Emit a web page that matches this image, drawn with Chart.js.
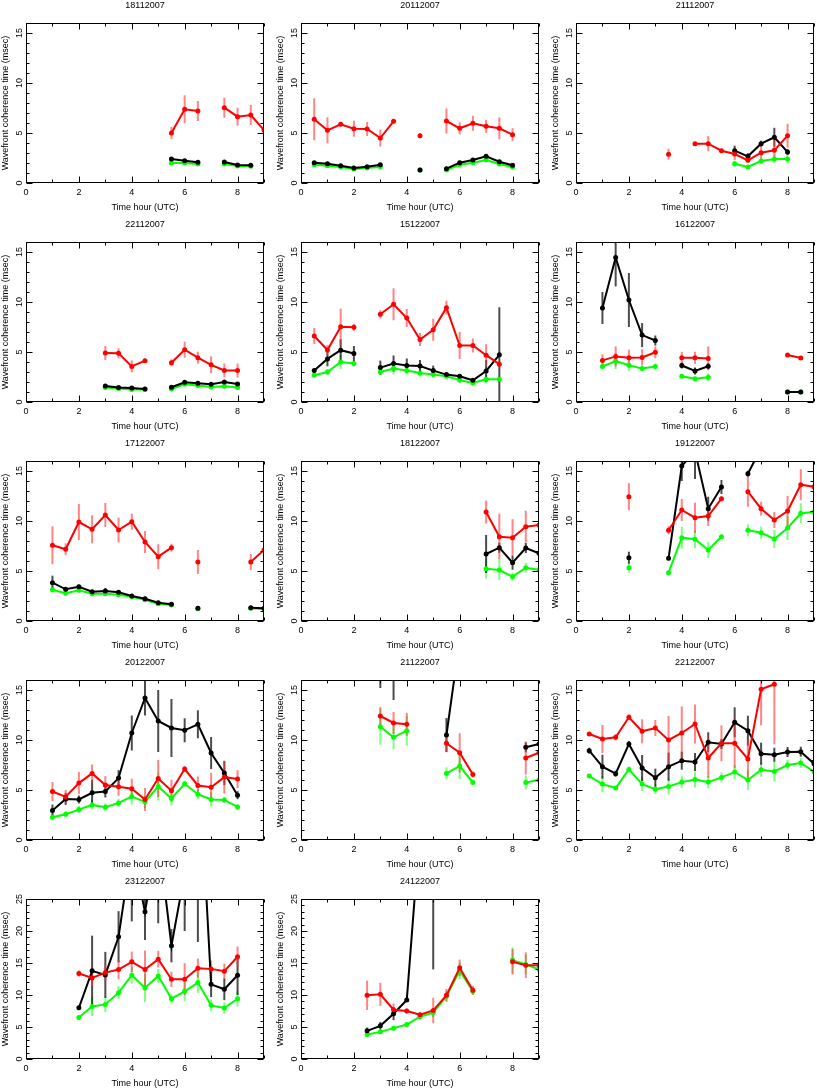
<!DOCTYPE html>
<html><head><meta charset="utf-8">
<script src="https://cdn.jsdelivr.net/npm/chart.js@4.4.0/dist/chart.umd.min.js"></script>
<style>
html,body{margin:0;padding:0;background:#fff;width:817px;height:1089px;overflow:hidden;position:relative;}
canvas{position:absolute;}
</style></head><body>
<script>
// ---------- tick labels ----------
const xTickValues = [0, 2, 4, 6, 8];
const yTicks16 = [0, 5, 10, 15];
const yTicks25 = [0, 5, 10, 15, 20, 25];

// ---------- 18112007 ----------
const t_18112007 = [5.5, 6, 6.5, 7, 7.5, 8, 8.5, 9];
const red_18112007 = [5.0, 7.37, 7.2, null, 7.53, 6.63, 6.8, 5.3];
const redErr_18112007 = [0.6, 1.4, 1.0, null, 1.0, 0.9, 1.0, 1.1];
const black_18112007 = [2.4, 2.23, 2.07, null, 2.1, 1.8, 1.77, null];
const blackErr_18112007 = [0.15, 0.15, 0.1, null, 0.15, 0.1, 0.1, null];
const green_18112007 = [2.0, 2.0, 1.9, null, 1.9, 1.7, 1.67, null];
const greenErr_18112007 = [0.1, 0.1, 0.1, null, 0.1, 0.1, 0.1, null];

// ---------- 20112007 ----------
const t_20112007 = [0.5, 1, 1.5, 2, 2.5, 3, 3.5, 4, 4.5, 5, 5.5, 6, 6.5, 7, 7.5, 8];
const red_20112007 = [6.37, 5.27, 5.87, 5.43, 5.4, 4.5, 6.17, null, 4.73, null, 6.2, 5.47, 5.97, 5.67, 5.47, 4.83];
const redErr_20112007 = [2.1, 1.3, 0.2, 0.8, 0.7, 0.85, 0.2, null, 0.25, null, 1.25, 0.6, 0.75, 0.65, 1.1, 0.65];
const black_20112007 = [2.03, 1.93, 1.73, 1.5, 1.63, 1.83, null, null, 1.3, null, 1.43, 2.03, 2.3, 2.67, 2.13, 1.77];
const blackErr_20112007 = [0.15, 0.15, 0.15, 0.15, 0.15, 0.15, null, null, 0.1, null, 0.2, 0.2, 0.15, 0.15, 0.15, 0.15];
const green_20112007 = [1.83, 1.73, 1.6, 1.4, 1.5, 1.63, null, null, 1.3, null, 1.3, 1.83, 2.03, 2.3, 1.9, 1.6];
const greenErr_20112007 = [0.1, 0.1, 0.1, 0.1, 0.1, 0.1, null, null, 0.1, null, 0.1, 0.1, 0.1, 0.1, 0.1, 0.1];

// ---------- 21112007 ----------
const t_21112007 = [3.5, 4, 4.5, 5, 5.5, 6, 6.5, 7, 7.5, 8];
const red_21112007 = [2.87, null, 3.93, 3.93, 3.23, 2.9, 2.27, 3.03, 3.27, 4.73];
const redErr_21112007 = [0.55, null, 0.15, 0.75, 0.15, 0.6, 0.2, 0.9, 1.0, 1.2];
const black_21112007 = [null, null, null, null, null, 3.23, 2.67, 3.93, 4.57, 3.1];
const blackErr_21112007 = [null, null, null, null, null, 0.5, 0.3, 0.3, 0.95, 0.3];
const green_21112007 = [null, null, null, null, null, 1.93, 1.6, 2.2, 2.4, 2.4];
const greenErr_21112007 = [null, null, null, null, null, 0.3, 0.15, 0.3, 0.4, 0.4];

// ---------- 22112007 ----------
const t_22112007 = [3, 3.5, 4, 4.5, 5, 5.5, 6, 6.5, 7, 7.5, 8];
const red_22112007 = [4.9, 4.87, 3.56, 4.13, null, 3.93, 5.23, 4.43, 3.72, 3.15, 3.15];
const redErr_22112007 = [0.7, 0.5, 0.6, 0.2, null, 0.35, 0.8, 0.6, 0.85, 0.7, 0.7];
const black_22112007 = [1.6, 1.45, 1.4, 1.3, null, 1.47, 1.97, 1.88, 1.78, 2.0, 1.8];
const blackErr_22112007 = [0.1, 0.1, 0.1, 0.1, null, 0.1, 0.15, 0.1, 0.1, 0.1, 0.1];
const green_22112007 = [1.45, 1.35, 1.25, 1.25, null, 1.3, 1.78, 1.65, 1.5, 1.57, 1.45];
const greenErr_22112007 = [0.1, 0.1, 0.1, 0.1, null, 0.1, 0.15, 0.1, 0.1, 0.1, 0.1];

// ---------- 15122007 ----------
const t_15122007 = [0.5, 1, 1.5, 2, 2.5, 3, 3.5, 4, 4.5, 5, 5.5, 6, 6.5, 7, 7.5];
const red_15122007 = [6.6, 5.2, 7.53, 7.47, null, 8.77, 9.77, 8.4, 6.25, 7.22, 9.43, 5.65, 5.65, 4.68, 3.78];
const redErr_15122007 = [0.8, 0.5, 1.8, 0.35, null, 0.4, 1.6, 0.9, 0.65, 1.1, 0.7, 1.35, 0.7, 1.1, 0.2];
const black_15122007 = [3.14, 4.31, 5.18, 4.85, null, 3.44, 3.85, 3.65, 3.6, 3.14, 2.74, 2.58, 2.17, 3.1, 4.72];
const blackErr_15122007 = [0.2, 0.75, 1.1, 0.75, null, 0.7, 0.8, 0.7, 0.6, 0.5, 0.2, 0.2, 0.2, 1.1, 4.75];
const green_15122007 = [2.68, 3.0, 4.0, 3.85, null, 3.0, 3.35, 3.14, 2.9, 2.74, 2.58, 2.2, 1.9, 2.27, 2.27];
const greenErr_15122007 = [0.2, 0.3, 0.7, 0.3, null, 0.3, 0.6, 0.4, 0.35, 0.3, 0.3, 0.3, 0.2, 0.4, 0.3];

// ---------- 16122007 ----------
const t_16122007 = [1, 1.5, 2, 2.5, 3, 3.5, 4, 4.5, 5, 5.5, 6, 6.5, 7, 7.5, 8, 8.5];
const red_16122007 = [4.16, 4.56, 4.42, 4.46, 4.97, null, 4.42, 4.42, 4.36, null, null, null, null, null, 4.7, 4.4];
const redErr_16122007 = [0.6, 1.0, 0.8, 0.8, 0.6, null, 0.6, 0.6, 1.2, null, null, null, null, null, 0.2, 0.15];
const black_16122007 = [9.4, 14.46, 10.2, 6.69, 6.15, null, 3.65, 3.1, 3.58, null, null, null, null, null, 1.0, 1.0];
const blackErr_16122007 = [1.6, 2.9, 2.7, 1.2, 0.5, null, 0.3, 0.35, 0.3, null, null, null, null, null, 0.1, 0.1];
const green_16122007 = [3.55, 4.1, 3.68, 3.34, 3.55, null, 2.57, 2.33, 2.47, null, null, null, null, null, 1.0, 1.0];
const greenErr_16122007 = [0.3, 0.8, 0.6, 0.3, 0.3, null, 0.2, 0.2, 0.4, null, null, null, null, null, 0.05, 0.05];

// ---------- 17122007 ----------
const t_17122007 = [1, 1.5, 2, 2.5, 3, 3.5, 4, 4.5, 5, 5.5, 6, 6.5, 7, 7.5, 8, 8.5, 9];
const red_17122007 = [7.57, 7.17, 9.9, 9.17, 10.6, 9.1, 9.93, 7.9, 6.43, 7.33, null, 5.9, null, null, null, 5.9, 7.1];
const redErr_17122007 = [1.9, 0.6, 1.8, 1.4, 1.2, 1.25, 0.8, 1.1, 1.25, 0.4, null, 1.2, null, null, null, 0.8, 0.85];
const black_17122007 = [3.83, 3.17, 3.43, 2.93, 3.0, 2.87, 2.5, 2.23, 1.83, 1.67, null, 1.27, null, null, null, 1.33, 1.27];
const blackErr_17122007 = [0.7, 0.2, 0.2, 0.2, 0.3, 0.2, 0.2, 0.2, 0.15, 0.15, null, 0.1, null, null, null, 0.1, 0.1];
const green_17122007 = [3.13, 2.77, 3.07, 2.73, 2.73, 2.63, 2.43, 2.13, 1.73, 1.6, null, 1.23, null, null, null, 1.27, 1.2];
const greenErr_17122007 = [0.3, 0.2, 0.2, 0.2, 0.2, 0.2, 0.2, 0.2, 0.15, 0.15, null, 0.1, null, null, null, 0.1, 0.1];

// ---------- 18122007 ----------
const t_18122007 = [7, 7.5, 8, 8.5, 9];
const red_18122007 = [10.9, 8.43, 8.33, 9.43, 9.6];
const redErr_18122007 = [1.15, 2.3, 1.85, 1.6, 1.1];
const black_18122007 = [6.7, 7.33, 5.83, 7.3, 6.77];
const blackErr_18122007 = [1.9, 0.5, 0.7, 0.5, 0.4];
const green_18122007 = [5.23, 5.1, 4.43, 5.33, 5.13];
const greenErr_18122007 = [1.0, 1.0, 0.4, 0.5, 0.4];

// ---------- 19122007 ----------
const t_19122007 = [2, 2.5, 3, 3.5, 4, 4.5, 5, 5.5, 6, 6.5, 7, 7.5, 8, 8.5, 9];
const red_19122007 = [12.43, null, null, 9.07, 11.1, 10.33, 10.5, 12.23, null, 12.93, 11.23, 10.1, 11.0, 13.63, 13.43];
const redErr_19122007 = [1.35, null, null, 0.4, 1.1, 1.5, 1.0, 0.2, null, 1.5, 0.7, 0.8, 1.5, 1.55, 1.7];
const black_19122007 = [6.33, null, null, 6.27, 15.5, 17.0, 11.23, 13.4, null, 14.73, 17.3, null, null, null, null];
const blackErr_19122007 = [0.6, null, null, 0.2, 1.5, 2.8, 1.2, 0.7, null, 0.3, 0.5, null, null, null, null];
const green_19122007 = [5.33, null, null, 4.83, 8.33, 8.17, 7.1, 8.43, null, 9.07, 8.83, 8.2, 9.3, 10.77, 10.9];
const greenErr_19122007 = [0.5, null, null, 0.2, 1.1, 0.9, 0.8, 0.2, null, 0.6, 0.6, 0.9, 1.2, 1.0, 0.6];

// ---------- 20122007 ----------
const t_20122007 = [1, 1.5, 2, 2.5, 3, 3.5, 4, 4.5, 5, 5.5, 6, 6.5, 7, 7.5, 8];
const red_20122007 = [4.85, 4.31, 5.69, 6.66, 5.49, 5.32, 5.12, 4.05, 6.15, 4.92, 7.09, 5.45, 5.28, 6.29, 6.09];
const redErr_20122007 = [0.95, 0.7, 1.1, 0.9, 0.9, 0.9, 1.0, 1.15, 1.85, 1.1, 0.3, 0.9, 1.45, 1.65, 0.9];
const black_20122007 = [2.94, 4.11, 4.05, 4.72, 4.85, 6.19, 10.7, 14.2, 11.9, 11.2, 10.97, 11.57, 8.7, 6.69, 4.48];
const blackErr_20122007 = [0.6, 0.6, 0.4, 1.3, 0.6, 0.8, 1.75, 1.75, 3.1, 2.9, 1.2, 1.4, 1.6, 1.2, 0.4];
const green_20122007 = [2.27, 2.58, 3.04, 3.51, 3.28, 3.71, 4.35, 3.81, 5.35, 4.15, 5.62, 4.58, 4.05, 4.01, 3.31];
const greenErr_20122007 = [0.3, 0.3, 0.4, 0.5, 0.4, 0.4, 0.8, 0.6, 1.4, 0.7, 0.3, 0.5, 0.7, 0.3, 0.3];

// ---------- 21122007 ----------
const t_21122007 = [3, 3.5, 4, 4.5, 5, 5.5, 6, 6.5, 7, 7.5, 8, 8.5, 9];
const red_21122007 = [12.4, 11.7, 11.57, null, null, 9.67, 8.73, 6.56, null, null, null, 8.2, 8.73];
const redErr_21122007 = [0.9, 1.1, 1.15, null, null, 0.9, 1.95, 0.3, null, null, null, 1.65, 1.3];
const black_21122007 = [17.5, 18.5, 19.0, null, null, 10.5, 20.0, null, null, null, null, 9.27, 9.6];
const blackErr_21122007 = [2.3, 4.5, 1.0, null, null, 1.7, 2.0, null, null, null, null, 0.5, 0.5];
const green_21122007 = [11.33, 10.27, 10.93, null, null, 6.66, 7.39, 5.75, null, null, null, 5.75, 5.99];
const greenErr_21122007 = [1.8, 1.2, 1.5, null, null, 0.6, 1.3, 0.2, null, null, null, 0.7, 0.5];

// ---------- 22122007 ----------
const t_22122007 = [0.5, 1, 1.5, 2, 2.5, 3, 3.5, 4, 4.5, 5, 5.5, 6, 6.5, 7, 7.5, 8, 8.5, 9];
const red_22122007 = [10.6, 10.1, 10.27, 12.27, 10.87, 11.2, 10.0, 10.7, 11.6, 8.2, 9.67, 9.67, 8.1, 15.07, 15.57, null, null, null];
const redErr_22122007 = [0.2, 1.4, 0.3, 0.3, 1.2, 0.8, 2.4, 2.65, 1.95, 2.0, 1.8, 2.5, 1.9, 3.6, 6.0, null, null, null];
const black_22122007 = [8.93, 7.33, 6.63, 9.6, 7.2, 6.23, 7.33, 7.93, 7.8, 9.77, 9.6, 11.77, 10.93, 8.63, 8.53, 8.8, 8.83, 7.63];
const blackErr_22122007 = [0.3, 1.2, 0.3, 0.3, 1.3, 0.9, 1.4, 0.9, 0.9, 1.0, 0.5, 1.5, 1.5, 1.1, 0.7, 0.5, 0.5, 0.3];
const green_22122007 = [6.39, 5.59, 5.2, 7.06, 5.59, 5.08, 5.35, 5.79, 6.06, 5.79, 6.26, 6.8, 5.99, 7.03, 6.86, 7.5, 7.7, 6.83];
const greenErr_22122007 = [0.2, 0.8, 0.2, 0.3, 0.7, 0.5, 0.8, 0.6, 0.8, 0.6, 0.5, 0.7, 1.0, 0.7, 1.0, 0.5, 0.5, 0.3];

// ---------- 23122007 ----------
const t_23122007 = [2, 2.5, 3, 3.5, 4, 4.5, 5, 5.5, 6, 6.5, 7, 7.5, 8];
const red_23122007 = [13.35, 12.67, 13.5, 13.97, 15.18, 13.97, 15.6, 12.46, 12.46, 14.19, 14.08, 13.72, 15.97];
const redErr_23122007 = [0.5, 1.2, 1.3, 1.5, 1.6, 3.0, 1.3, 1.2, 2.5, 1.5, 1.3, 1.2, 1.6];
const black_23122007 = [8.0, 13.77, 13.14, 19.1, 33.0, 23.0, 35.0, 17.7, 29.0, 50.0, 11.67, 10.89, 13.09];
const blackErr_23122007 = [0.3, 5.5, 3.6, 4.0, 11.5, 4.4, 13.8, 2.6, 9.0, 31.7, 2.0, 1.7, 3.1];
const green_23122007 = [6.49, 8.22, 8.53, 10.37, 13.09, 11.1, 12.98, 9.42, 10.58, 11.94, 8.38, 7.96, 9.42];
const greenErr_23122007 = [0.3, 1.5, 1.2, 1.0, 1.3, 2.2, 1.1, 0.7, 1.5, 1.6, 0.9, 0.9, 1.2];

// ---------- 24122007 ----------
const t_24122007 = [2.5, 3, 3.5, 4, 4.5, 5, 5.5, 6, 6.5, 7, 7.5, 8, 8.5, 9];
const red_24122007 = [9.95, 10.1, 7.7, 7.49, 6.91, 7.59, 9.95, 14.24, 10.73, null, null, 15.18, 14.66, 14.66];
const redErr_24122007 = [2.3, 1.8, 1.0, 0.4, 0.4, 2.0, 1.0, 1.3, 0.7, null, null, 2.0, 2.0, 1.5];
const black_24122007 = [4.4, 5.18, 7.07, 9.21, 36.0, 30.0, null, null, null, null, null, null, null, null];
const blackErr_24122007 = [0.5, 0.6, 1.0, 0.3, 5.0, 16.0, null, null, null, null, null, null, null, null];
const green_24122007 = [3.82, 4.24, 4.82, 5.39, 6.6, 7.23, 9.8, 13.8, 10.6, null, null, 15.45, 14.76, 14.03];
const greenErr_24122007 = [0.3, 0.3, 0.3, 0.3, 0.4, 0.7, 0.8, 1.3, 0.6, null, null, 2.0, 1.5, 1.5];

// ---------- panel table built from the arrays ----------
const panels = [
  {name: '18112007', t: t_18112007, red: red_18112007, redErr: redErr_18112007, black: black_18112007, blackErr: blackErr_18112007, green: green_18112007, greenErr: greenErr_18112007, yMax: 16, yTicks: yTicks16},
  {name: '20112007', t: t_20112007, red: red_20112007, redErr: redErr_20112007, black: black_20112007, blackErr: blackErr_20112007, green: green_20112007, greenErr: greenErr_20112007, yMax: 16, yTicks: yTicks16},
  {name: '21112007', t: t_21112007, red: red_21112007, redErr: redErr_21112007, black: black_21112007, blackErr: blackErr_21112007, green: green_21112007, greenErr: greenErr_21112007, yMax: 16, yTicks: yTicks16},
  {name: '22112007', t: t_22112007, red: red_22112007, redErr: redErr_22112007, black: black_22112007, blackErr: blackErr_22112007, green: green_22112007, greenErr: greenErr_22112007, yMax: 16, yTicks: yTicks16},
  {name: '15122007', t: t_15122007, red: red_15122007, redErr: redErr_15122007, black: black_15122007, blackErr: blackErr_15122007, green: green_15122007, greenErr: greenErr_15122007, yMax: 16, yTicks: yTicks16},
  {name: '16122007', t: t_16122007, red: red_16122007, redErr: redErr_16122007, black: black_16122007, blackErr: blackErr_16122007, green: green_16122007, greenErr: greenErr_16122007, yMax: 16, yTicks: yTicks16},
  {name: '17122007', t: t_17122007, red: red_17122007, redErr: redErr_17122007, black: black_17122007, blackErr: blackErr_17122007, green: green_17122007, greenErr: greenErr_17122007, yMax: 16, yTicks: yTicks16},
  {name: '18122007', t: t_18122007, red: red_18122007, redErr: redErr_18122007, black: black_18122007, blackErr: blackErr_18122007, green: green_18122007, greenErr: greenErr_18122007, yMax: 16, yTicks: yTicks16},
  {name: '19122007', t: t_19122007, red: red_19122007, redErr: redErr_19122007, black: black_19122007, blackErr: blackErr_19122007, green: green_19122007, greenErr: greenErr_19122007, yMax: 16, yTicks: yTicks16},
  {name: '20122007', t: t_20122007, red: red_20122007, redErr: redErr_20122007, black: black_20122007, blackErr: blackErr_20122007, green: green_20122007, greenErr: greenErr_20122007, yMax: 16, yTicks: yTicks16},
  {name: '21122007', t: t_21122007, red: red_21122007, redErr: redErr_21122007, black: black_21122007, blackErr: blackErr_21122007, green: green_21122007, greenErr: greenErr_21122007, yMax: 16, yTicks: yTicks16},
  {name: '22122007', t: t_22122007, red: red_22122007, redErr: redErr_22122007, black: black_22122007, blackErr: blackErr_22122007, green: green_22122007, greenErr: greenErr_22122007, yMax: 16, yTicks: yTicks16},
  {name: '23122007', t: t_23122007, red: red_23122007, redErr: redErr_23122007, black: black_23122007, blackErr: blackErr_23122007, green: green_23122007, greenErr: greenErr_23122007, yMax: 25, yTicks: yTicks25},
  {name: '24122007', t: t_24122007, red: red_24122007, redErr: redErr_24122007, black: black_24122007, blackErr: blackErr_24122007, green: green_24122007, greenErr: greenErr_24122007, yMax: 25, yTicks: yTicks25}
];

const FONT = "'Liberation Sans', Arial, Helvetica, sans-serif";

const errPlugin = {
  id: 'errbars',
  beforeDatasetsDraw(chart) {
    const {ctx, chartArea: a, scales: {x, y}} = chart;
    ctx.save();
    ctx.beginPath();
    ctx.rect(a.left, a.top, a.right - a.left, a.bottom - a.top);
    ctx.clip();
    ctx.lineWidth = 2;
    ctx.lineCap = 'butt';
    for (let d = chart.data.datasets.length - 1; d >= 0; d--) {
      const ds = chart.data.datasets[d];
      ctx.strokeStyle = ds.errColor;
      ds.data.forEach((pt, i) => {
        const e = ds.errs[i];
        if (pt.y === null || e === null || e === undefined) return;
        const px = x.getPixelForValue(pt.x);
        ctx.beginPath();
        ctx.moveTo(px, y.getPixelForValue(pt.y - e));
        ctx.lineTo(px, y.getPixelForValue(pt.y + e));
        ctx.stroke();
      });
    }
    ctx.restore();
  }
};

const framePlugin = {
  id: 'frame',
  afterDatasetsDraw(chart) {
    const {ctx, chartArea: a, scales: {x, y}} = chart;
    const L = Math.round(a.left) + 0.5, R = Math.round(a.right) - 0.5;
    const T = Math.round(a.top) + 0.5, B = Math.round(a.bottom) - 0.5;
    ctx.save();
    ctx.strokeStyle = '#000';
    ctx.lineWidth = 1;
    ctx.strokeRect(L, T, R - L, B - T);
    const xMajor = chart.options.scales.x.majorTicks;
    const yMajor = chart.options.scales.y.majorTicks;
    ctx.beginPath();
    for (let v = Math.ceil(x.min); v <= x.max; v++) {
      const px = Math.round(x.getPixelForValue(v)) + 0.5;
      const len = xMajor.includes(v) ? 6 : 3;
      ctx.moveTo(px, B); ctx.lineTo(px, B - len);
      ctx.moveTo(px, T); ctx.lineTo(px, T + len);
    }
    for (let v = Math.ceil(y.min); v <= y.max; v++) {
      const py = Math.round(y.getPixelForValue(v)) + 0.5;
      const len = yMajor.includes(v) ? 6 : 3;
      ctx.moveTo(L, py); ctx.lineTo(L + len, py);
      ctx.moveTo(R, py); ctx.lineTo(R - len, py);
    }
    ctx.stroke();
    ctx.restore();
  }
};

function makeDataset(times, vals, errs, color, errColor) {
  return {
    data: times.map((t, i) => ({x: t, y: vals[i]})),
    errs: errs,
    errColor: errColor,
    borderColor: color,
    backgroundColor: color,
    borderWidth: 2,
    pointRadius: 2.5,
    pointBorderWidth: 0,
    pointBackgroundColor: color,
    pointHoverRadius: 2.5,
    tension: 0,
    spanGaps: false,
    clip: 0
  };
}

panels.forEach((p, idx) => {
  const col = idx % 3, row = Math.floor(idx / 3);
  const cv = document.createElement('canvas');
  cv.width = 270; cv.height = 219;
  cv.style.width = '270px'; cv.style.height = '219px';
  cv.style.left = (col * 275) + 'px';
  cv.style.top = (row * 219) + 'px';
  document.body.appendChild(cv);
  const fnt = {family: FONT, size: 9, weight: 'normal'};
  new Chart(cv, {
    type: 'line',
    data: {
      datasets: [
        makeDataset(p.t, p.red, p.redErr, '#ff0000', 'rgba(255,50,50,0.6)'),
        makeDataset(p.t, p.black, p.blackErr, '#000000', 'rgba(0,0,0,0.7)'),
        makeDataset(p.t, p.green, p.greenErr, '#00ff00', 'rgba(40,255,40,0.6)')
      ]
    },
    options: {
      responsive: false,
      animation: false,
      devicePixelRatio: 1,
      events: [],
      layout: {padding: {left: 0, right: 6, top: 0, bottom: 0}},
      plugins: {
        legend: {display: false},
        tooltip: {enabled: false},
        title: {display: true, text: p.name, fullSize: false, color: '#000', font: fnt, padding: {top: 0, bottom: 12.2}}
      },
      scales: {
        x: {
          type: 'linear', min: 0, max: 9,
          majorTicks: xTickValues,
          grid: {display: false, drawTicks: false, tickLength: 0}, border: {display: false},
          ticks: {color: '#000', font: fnt, padding: 4, maxRotation: 0, autoSkip: false},
          afterBuildTicks: s => { s.ticks = xTickValues.map(v => ({value: v})); },
          afterFit: s => { s.height = 36; },
          title: {display: true, text: 'Time hour (UTC)', color: '#000', font: fnt, padding: {top: 0, bottom: 5.6}}
        },
        y: {
          type: 'linear', min: 0, max: p.yMax,
          majorTicks: p.yTicks,
          grid: {display: false, drawTicks: false, tickLength: 0}, border: {display: false},
          ticks: {color: '#000', font: fnt, padding: 1, minRotation: 90, maxRotation: 90, crossAlign: 'center', autoSkip: false},
          afterBuildTicks: s => { s.ticks = p.yTicks.map(v => ({value: v})); },
          afterFit: s => { s.width = 26; },
          title: {display: true, text: 'Wavefront coherence time (msec)', color: '#000', font: fnt, padding: {top: 0, bottom: 0}}
        }
      }
    },
    plugins: [errPlugin, framePlugin]
  });
});
</script>
</body></html>
